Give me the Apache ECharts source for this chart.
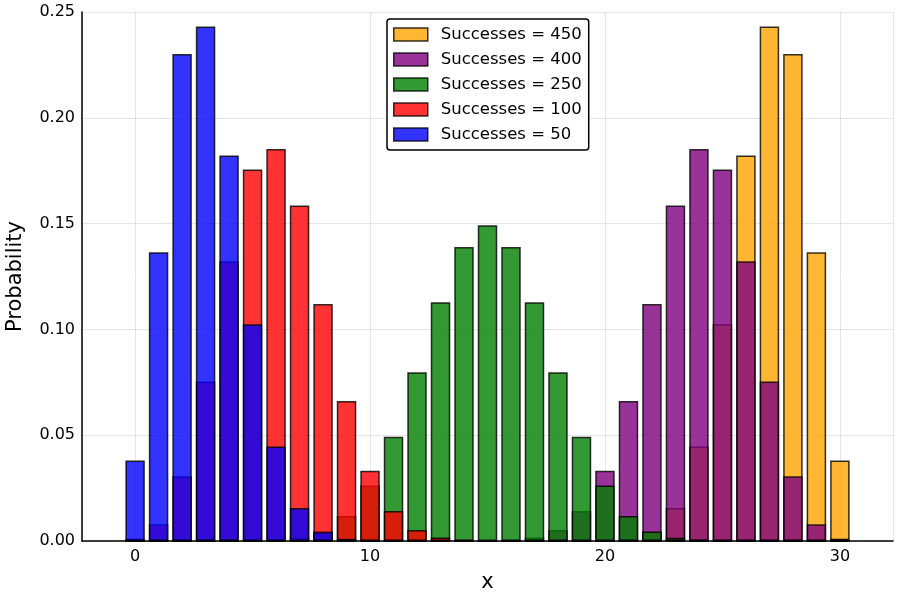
<!DOCTYPE html>
<html><head><meta charset="utf-8">
<script src="https://cdn.jsdelivr.net/npm/echarts@6/dist/echarts.min.js"></script>
<style>html,body{margin:0;padding:0;background:#fff}#c{width:900px;height:600px}</style>
</head><body><div id="c"></div>
<script>
const xs = [0,1,2,3,4,5,6,7,8,9,10,11,12,13,14,15,16,17,18,19,20,21,22,23,24,25,26,27,28,29,30];
const p50  = [0.0381,0.1365,0.2301,0.2432,0.1822,0.1024,0.0447,0.0156,0.0044,0.0010,0.0002,0.00003,0,0,0,0,0,0,0,0,0,0,0,0,0,0,0,0,0,0,0];
const p100 = [0.0011,0.0079,0.0306,0.0754,0.1322,0.1756,0.1852,0.1585,0.1120,0.0662,0.0332,0.0142,0.0052,0.0016,0.0004,0.0001,0.00002,0,0,0,0,0,0,0,0,0,0,0,0,0,0];
const p250 = [0,0,0,0,0.00001,0.0001,0.0005,0.0015,0.0045,0.0118,0.0262,0.0493,0.0797,0.1128,0.1389,0.1492,0.1389,0.1128,0.0797,0.0493,0.0262,0.0118,0.0045,0.0015,0.0005,0.0001,0.00001,0,0,0,0];
const p400 = [0,0,0,0,0,0,0,0,0,0,0,0,0,0,0.00002,0.0001,0.0004,0.0016,0.0052,0.0142,0.0332,0.0662,0.1120,0.1585,0.1852,0.1756,0.1322,0.0754,0.0306,0.0079,0.0011];
const p450 = [0,0,0,0,0,0,0,0,0,0,0,0,0,0,0,0,0,0,0,0.00003,0.0002,0.0010,0.0044,0.0156,0.0447,0.1024,0.1822,0.2432,0.2301,0.1365,0.0381];
const names = ['Successes = 450','Successes = 400','Successes = 250','Successes = 100','Successes = 50'];
const colors = ['#FFA500','#800080','#008000','#FF0000','#0000FF'];
const allData = [p450,p400,p250,p100,p50];

const chart = echarts.init(document.getElementById('c'));
const font = 'DejaVu Sans';
chart.setOption({
  animation:false,
  textStyle:{fontFamily:font},
  grid:{left:82,right:7,top:12,bottom:59,containLabel:false,outerBoundsMode:'none'},
  legend:{
    orient:'vertical', left:387, top:19,
    padding:[7,7,7,6],
    borderColor:'#000', borderWidth:1.5, borderRadius:3,
    backgroundColor:'#fff',
    itemWidth:34, itemHeight:13, itemGap:8,
    textStyle:{fontSize:16.5,color:'#000',fontFamily:font,padding:[0,0,0,8]},
    data:names.map((n,i)=>({name:n,icon:'rect',itemStyle:{color:colors[i],opacity:0.8,borderColor:'#000',borderWidth:1.5}}))
  },
  xAxis:{
    type:'value', min:-2.26, max:32.26, splitNumber:3,
    name:'x', nameLocation:'middle', nameGap:31,
    nameTextStyle:{fontSize:21,color:'#000',fontFamily:font},
    axisLine:{show:true,onZero:false,lineStyle:{color:'#000',width:1.5}},
    axisTick:{show:false},
    axisLabel:{fontSize:16,color:'#000',margin:8,showMinLabel:false,showMaxLabel:false,
      formatter:v=>(Math.abs(v-Math.round(v/10)*10)<1e-6?String(Math.round(v)):'')},
    splitLine:{show:true,lineStyle:{color:'rgba(0,0,0,0.1)',width:1}}
  },
  yAxis:{
    type:'value', min:0, max:0.25, interval:0.05,
    name:'Probability', nameLocation:'middle', nameGap:56,
    nameTextStyle:{fontSize:21,color:'#000',fontFamily:font},
    axisLine:{show:true,onZero:false,lineStyle:{color:'#000',width:1.5}},
    axisTick:{show:false},
    axisLabel:{fontSize:16,color:'#000',margin:7,formatter:v=>v.toFixed(2)},
    splitLine:{show:true,lineStyle:{color:'rgba(0,0,0,0.1)',width:1}}
  },
  series:allData.map((d,i)=>({
    type:'bar', name:names[i],
    data:xs.map((x,j)=>[x,d[j]]),
    barWidth:19.5, barGap:'-100%',
    itemStyle:{color:colors[i],opacity:0.8,borderColor:'#000',borderWidth:1.5}
  }))
});
</script></body></html>
